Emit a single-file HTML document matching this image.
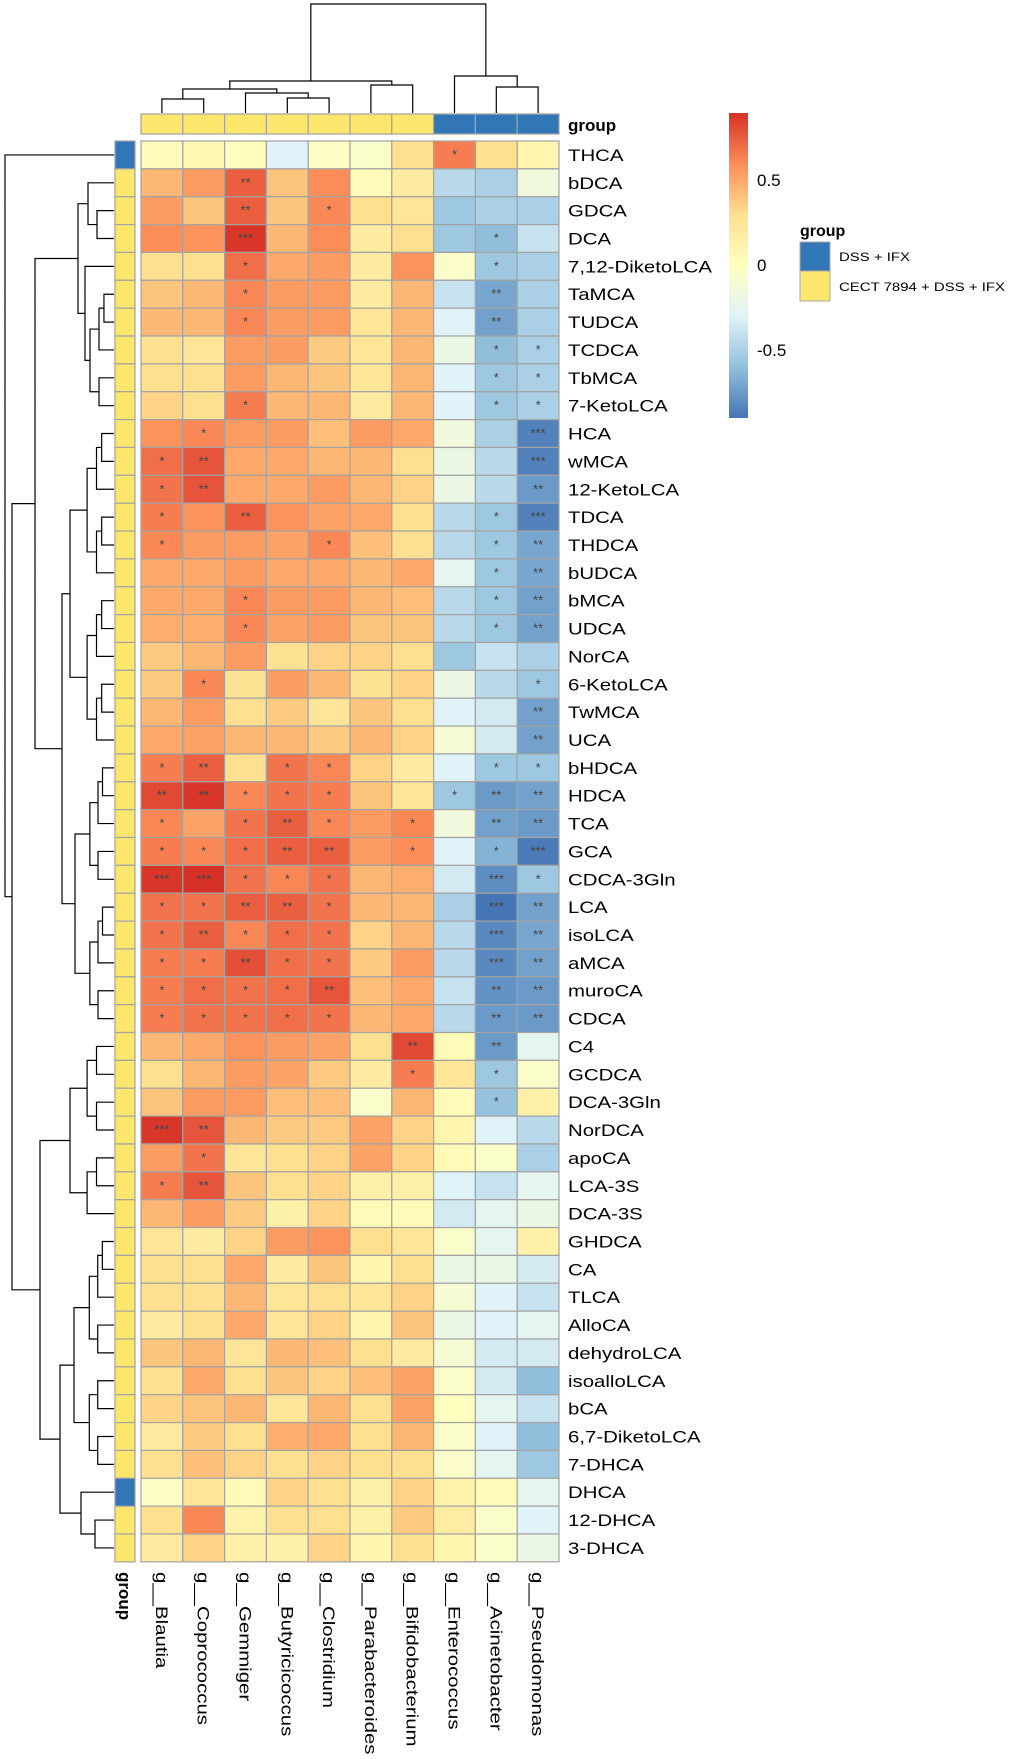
<!DOCTYPE html>
<html><head><meta charset="utf-8"><style>
html,body{margin:0;padding:0;background:#fff;}
svg text{font-family:"Liberation Sans",Arial,sans-serif;}
</style></head><body>
<svg id="chart" width="1009" height="1754" viewBox="0 0 1009 1754" xmlns="http://www.w3.org/2000/svg">
<defs>
<linearGradient id="cbar" x1="0" y1="0" x2="0" y2="1">
<stop offset="0" stop-color="#D73027"/><stop offset="0.1667" stop-color="#FC8D59"/><stop offset="0.3333" stop-color="#FEE090"/><stop offset="0.5" stop-color="#FFFFBF"/><stop offset="0.6667" stop-color="#E0F3F8"/><stop offset="0.8333" stop-color="#91BFDB"/><stop offset="1" stop-color="#4575B4"/>
</linearGradient>
</defs>
<g id="cells"></g>
<g id="dend"></g>
<g id="labels"></g>
<g>
<rect x="729" y="113" width="19" height="305" fill="url(#cbar)"/>
<text x="757" y="186" font-size="17">0.5</text>
<text x="757" y="271" font-size="17">0</text>
<text x="757" y="356" font-size="17">-0.5</text>
</g>
<g>
<text x="800" y="236" font-size="16" font-weight="bold">group</text>
<rect x="800" y="242" width="30" height="29" fill="#3176B5" stroke="#AAA"/>
<text x="839" y="261" font-size="12" textLength="71" lengthAdjust="spacingAndGlyphs">DSS + IFX</text>
<rect x="800" y="271" width="30" height="30" fill="#FCE76C" stroke="#AAA"/>
<text x="839" y="291" font-size="12" textLength="166" lengthAdjust="spacingAndGlyphs">CECT  7894 + DSS + IFX</text>
</g>
</svg>
<script>
const cols = ["g__Blautia","g__Coprococcus","g__Gemmiger","g__Butyricicoccus","g__Clostridium","g__Parabacteroides","g__Bifidobacterium","g__Enterococcus","g__Acinetobacter","g__Pseudomonas"];
const colGroup = [1,1,1,1,1,1,1,0,0,0];
const rows = ["THCA","bDCA","GDCA","DCA","7,12-DiketoLCA","TaMCA","TUDCA","TCDCA","TbMCA","7-KetoLCA","HCA","wMCA","12-KetoLCA","TDCA","THDCA","bUDCA","bMCA","UDCA","NorCA","6-KetoLCA","TwMCA","UCA","bHDCA","HDCA","TCA","GCA","CDCA-3Gln","LCA","isoLCA","aMCA","muroCA","CDCA","C4","GCDCA","DCA-3Gln","NorDCA","apoCA","LCA-3S","DCA-3S","GHDCA","CA","TLCA","AlloCA","dehydroLCA","isoalloLCA","bCA","6,7-DiketoLCA","7-DHCA","DHCA","12-DHCA","3-DHCA"];
const rowGroup = [0,1,1,1,1,1,1,1,1,1,1,1,1,1,1,1,1,1,1,1,1,1,1,1,1,1,1,1,1,1,1,1,1,1,1,1,1,1,1,1,1,1,1,1,1,1,1,1,0,1,1];
const values = [
[0.05,0.08,0.02,-0.3,-0.02,-0.05,0.3,0.65,0.3,0.1],
[0.45,0.55,0.75,0.4,0.6,0.03,0.2,-0.45,-0.5,-0.15],
[0.55,0.4,0.75,0.4,0.62,0.3,0.25,-0.55,-0.5,-0.5],
[0.6,0.58,0.88,0.45,0.6,0.2,0.3,-0.55,-0.6,-0.4],
[0.3,0.3,0.7,0.5,0.55,0.2,0.58,-0.05,-0.55,-0.5],
[0.4,0.45,0.62,0.55,0.55,0.2,0.45,-0.4,-0.7,-0.5],
[0.45,0.45,0.62,0.55,0.55,0.25,0.45,-0.3,-0.72,-0.5],
[0.3,0.25,0.55,0.55,0.38,0.25,0.45,-0.2,-0.6,-0.5],
[0.3,0.3,0.55,0.45,0.4,0.25,0.45,-0.3,-0.55,-0.5],
[0.35,0.3,0.65,0.45,0.45,0.2,0.45,-0.3,-0.55,-0.5],
[0.58,0.62,0.55,0.55,0.42,0.55,0.5,-0.15,-0.5,-0.85],
[0.7,0.78,0.5,0.5,0.45,0.45,0.3,-0.2,-0.45,-0.85],
[0.68,0.78,0.5,0.5,0.55,0.45,0.35,-0.2,-0.45,-0.75],
[0.65,0.58,0.75,0.58,0.52,0.5,0.3,-0.45,-0.55,-0.85],
[0.62,0.55,0.55,0.52,0.62,0.42,0.3,-0.45,-0.55,-0.7],
[0.5,0.5,0.55,0.5,0.5,0.45,0.5,-0.25,-0.55,-0.7],
[0.5,0.5,0.62,0.55,0.55,0.45,0.42,-0.45,-0.55,-0.72],
[0.48,0.48,0.62,0.52,0.55,0.4,0.4,-0.45,-0.55,-0.72],
[0.38,0.45,0.55,0.28,0.35,0.35,0.3,-0.55,-0.4,-0.5],
[0.38,0.62,0.28,0.55,0.45,0.28,0.35,-0.2,-0.45,-0.55],
[0.45,0.55,0.3,0.38,0.25,0.4,0.3,-0.3,-0.35,-0.72],
[0.5,0.52,0.45,0.45,0.38,0.45,0.35,-0.1,-0.35,-0.72],
[0.65,0.75,0.3,0.68,0.62,0.35,0.2,-0.3,-0.55,-0.55],
[0.82,0.88,0.62,0.68,0.65,0.4,0.25,-0.55,-0.75,-0.72],
[0.62,0.52,0.68,0.75,0.62,0.55,0.62,-0.15,-0.72,-0.75],
[0.65,0.62,0.7,0.75,0.75,0.55,0.6,-0.3,-0.65,-0.88],
[0.88,0.9,0.68,0.62,0.68,0.45,0.48,-0.35,-0.8,-0.55],
[0.68,0.68,0.75,0.75,0.68,0.45,0.45,-0.5,-0.9,-0.72],
[0.68,0.75,0.62,0.7,0.68,0.35,0.45,-0.45,-0.82,-0.7],
[0.65,0.65,0.8,0.7,0.68,0.38,0.55,-0.45,-0.82,-0.72],
[0.65,0.7,0.68,0.7,0.78,0.42,0.5,-0.4,-0.78,-0.75],
[0.65,0.68,0.68,0.7,0.68,0.45,0.5,-0.45,-0.75,-0.75],
[0.45,0.5,0.58,0.55,0.52,0.3,0.82,0.05,-0.75,-0.25],
[0.3,0.45,0.55,0.52,0.38,0.2,0.65,0.25,-0.55,-0.05],
[0.4,0.55,0.55,0.42,0.42,-0.05,0.45,0.05,-0.58,0.15],
[0.88,0.78,0.45,0.38,0.38,0.52,0.35,0.1,-0.3,-0.45],
[0.55,0.68,0.25,0.3,0.35,0.52,0.35,0.05,-0.05,-0.5],
[0.65,0.78,0.4,0.3,0.35,0.15,0.15,-0.3,-0.4,-0.25],
[0.45,0.55,0.38,0.15,0.35,0.05,0.05,-0.35,-0.25,-0.2],
[0.25,0.2,0.35,0.55,0.58,0.3,0.25,-0.05,-0.25,0.15],
[0.3,0.3,0.5,0.2,0.4,0.1,0.3,-0.2,-0.2,-0.35],
[0.3,0.3,0.45,0.25,0.3,0.25,0.35,-0.1,-0.3,-0.4],
[0.2,0.3,0.5,0.25,0.35,0.1,0.4,-0.2,-0.3,-0.25],
[0.4,0.45,0.25,0.45,0.42,0.3,0.2,-0.1,-0.35,-0.35],
[0.3,0.5,0.3,0.4,0.35,0.42,0.52,-0.05,-0.35,-0.6],
[0.35,0.4,0.45,0.25,0.45,0.3,0.52,0.0,-0.25,-0.4],
[0.2,0.38,0.3,0.48,0.5,0.3,0.45,-0.05,-0.3,-0.6],
[0.3,0.42,0.35,0.3,0.35,0.3,0.3,-0.05,-0.25,-0.55],
[-0.03,0.25,0.05,0.35,0.3,0.15,0.35,0.12,0.05,-0.25],
[0.3,0.62,0.12,0.3,0.3,0.15,0.38,0.18,-0.05,-0.3],
[0.2,0.35,0.15,0.15,0.35,0.1,0.3,0.1,-0.05,-0.2]
];
// significance per cell (row -> list of [col, marks])
const sig = [
[[7,"*"]],
[[2,"**"]],
[[2,"**"],[4,"*"]],
[[2,"***"],[8,"*"]],
[[2,"*"],[8,"*"]],
[[2,"*"],[8,"**"]],
[[2,"*"],[8,"**"]],
[[8,"*"],[9,"*"]],
[[8,"*"],[9,"*"]],
[[2,"*"],[8,"*"],[9,"*"]],
[[1,"*"],[9,"***"]],
[[0,"*"],[1,"**"],[9,"***"]],
[[0,"*"],[1,"**"],[9,"**"]],
[[0,"*"],[2,"**"],[8,"*"],[9,"***"]],
[[0,"*"],[4,"*"],[8,"*"],[9,"**"]],
[[8,"*"],[9,"**"]],
[[2,"*"],[8,"*"],[9,"**"]],
[[2,"*"],[8,"*"],[9,"**"]],
[],
[[1,"*"],[9,"*"]],
[[9,"**"]],
[[9,"**"]],
[[0,"*"],[1,"**"],[3,"*"],[4,"*"],[8,"*"],[9,"*"]],
[[0,"**"],[1,"**"],[2,"*"],[3,"*"],[4,"*"],[7,"*"],[8,"**"],[9,"**"]],
[[0,"*"],[2,"*"],[3,"**"],[4,"*"],[6,"*"],[8,"**"],[9,"**"]],
[[0,"*"],[1,"*"],[2,"*"],[3,"**"],[4,"**"],[6,"*"],[8,"*"],[9,"***"]],
[[0,"***"],[1,"***"],[2,"*"],[3,"*"],[4,"*"],[8,"***"],[9,"*"]],
[[0,"*"],[1,"*"],[2,"**"],[3,"**"],[4,"*"],[8,"***"],[9,"**"]],
[[0,"*"],[1,"**"],[2,"*"],[3,"*"],[4,"*"],[8,"***"],[9,"**"]],
[[0,"*"],[1,"*"],[2,"**"],[3,"*"],[4,"*"],[8,"***"],[9,"**"]],
[[0,"*"],[1,"*"],[2,"*"],[3,"*"],[4,"**"],[8,"**"],[9,"**"]],
[[0,"*"],[1,"*"],[2,"*"],[3,"*"],[4,"*"],[8,"**"],[9,"**"]],
[[6,"**"],[8,"**"]],
[[6,"*"],[8,"*"]],
[[8,"*"]],
[[0,"***"],[1,"**"]],
[[1,"*"]],
[[0,"*"],[1,"**"]],
[],[],[],[],[],[],[],[],[],[],[],[],[]
];

const X0 = 141, CW = 41.8, Y0 = 141, RH = 27.86;
const NS = "http://www.w3.org/2000/svg";
function xs(i){ return X0 + i*CW; }
function ys(j){ return Y0 + j*RH; }
const stops = [[-0.9,[69,117,180]],[-0.6,[145,191,219]],[-0.3,[224,243,248]],[0,[255,255,191]],[0.3,[254,224,144]],[0.6,[252,141,89]],[0.9,[215,48,39]]];
function color(v){
  v = Math.max(-0.9, Math.min(0.9, v));
  for (let k=0;k<stops.length-1;k++){
    const a=stops[k], b=stops[k+1];
    if (v<=b[0]){ const t=(v-a[0])/(b[0]-a[0]);
      const c=a[1].map((x,i)=>Math.round(x+(b[1][i]-x)*t)); return `rgb(${c.join(",")})`; }
  }
  return "rgb(215,48,39)";
}
function mk(tag, attrs, parent){
  const e=document.createElementNS(NS,tag);
  for (const k in attrs) e.setAttribute(k, attrs[k]);
  parent.appendChild(e); return e;
}
const cells=document.getElementById("cells");
const grpCol=["#3176B5","#FCE76C"];
values.forEach((row,j)=>{
  row.forEach((v,i)=>{
    const r=mk("rect",{x:xs(i),y:ys(j),width:CW,height:RH,fill:color(v),stroke:"#A3A3A3","stroke-width":1.2},cells);
    
    
  });
  const a=mk("rect",{x:115,y:ys(j),width:20,height:RH,fill:grpCol[rowGroup[j]],stroke:"#A3A3A3","stroke-width":1.2},cells);
  
  
});
sig.forEach((list,j)=>{
  list.forEach(([i,m])=>{
    const t=mk("text",{x:xs(i)+CW/2,y:ys(j)+RH/2+4,"font-size":13,"text-anchor":"middle",fill:"#444"},cells);
    t.textContent=m;
    
    
  });
});
cols.forEach((c,i)=>{
  const a=mk("rect",{x:xs(i),y:114,width:CW,height:20,fill:grpCol[colGroup[i]],stroke:"#A3A3A3","stroke-width":1.2},cells);
  
  
});
const lab=document.getElementById("labels");
rows.forEach((r,j)=>{
  const ty=ys(j)+RH/2+6;
  const t=mk("text",{x:0,y:0,"font-size":17,transform:`translate(568 ${ty}) scale(1.2 1)`},lab);
  t.textContent=r;
  
  
});
cols.forEach((c,i)=>{
  const cx=xs(i)+CW/2-6, cy=1572;
  const t=mk("text",{x:0,y:0,"font-size":17,transform:`translate(${cx} ${cy}) rotate(90) scale(1.2 1)`},lab);
  t.textContent=c;
  
  
});
let t=mk("text",{x:568,y:131,"font-size":17,"font-weight":"bold"},lab);
t.textContent="group";


t=mk("text",{x:119,y:1572,"font-size":17,"font-weight":"bold",transform:"rotate(90 119 1572)"},lab);
t.textContent="group";



const dg=document.getElementById("dend");
let dpath="";
function colNode(n){
  if (typeof n==="number") return {pos:xs(n)+CW/2, h:113};
  const a=colNode(n[1]), b=colNode(n[2]);
  dpath+=`M${a.pos},${a.h}V${n[0]}H${b.pos}V${b.h}`;
  return {pos:(a.pos+b.pos)/2, h:n[0]};
}
colNode([4,[81,[89,[99,0,1],[93,2,[98,3,4]]],[85,5,6]],[76,7,[87,8,9]]]);
function bal(a,b,x1,x2){
  if (a===b) return a;
  const m=Math.floor((a+b)/2);
  const nx=x1+(x2-x1)*0.45;
  return [x1, bal(a,m,nx,x2), bal(m+1,b,nx,x2)];
}
function rowNode(n){
  if (typeof n==="number") return {pos:ys(n)+RH/2, h:114};
  const a=rowNode(n[1]), b=rowNode(n[2]);
  dpath+=`M${a.h},${a.pos}H${n[0]}V${b.pos}H${b.h}`;
  return {pos:(a.pos+b.pos)/2, h:n[0]};
}
const A1=[78,[88,1,[97,2,3]],[85,4,bal(5,9,90,110)]];
const A2=[62,bal(10,21,70,108),bal(22,31,75,108)];
const B1=bal(32,38,70,108);
const B2=[60,bal(39,47,74,108),[81,48,[95,49,50]]];
const tree=[5,0,[12,[35,A1,A2],[40,B1,B2]]];
rowNode(tree);
const p=mk("path",{d:dpath,fill:"none",stroke:"#000","stroke-width":1.2},dg);


</script>
</body></html>
